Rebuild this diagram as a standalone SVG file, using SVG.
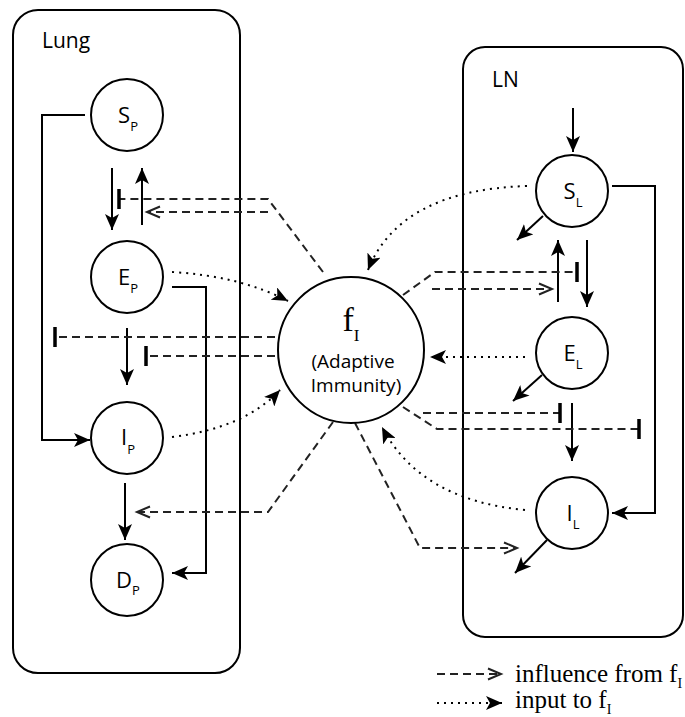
<svg xmlns="http://www.w3.org/2000/svg" width="685" height="717" viewBox="0 0 685 717">
<style>
.box{fill:none;stroke:#000;stroke-width:2}
.node circle{fill:#fff;stroke:#000;stroke-width:2}
.lbl{font-family:"Open Sans","DejaVu Sans",sans-serif;font-size:22px;fill:#000}
.sub{font-size:13px}
.cap{font-family:"Open Sans","DejaVu Sans",sans-serif;font-size:19px;fill:#000}
.title{font-family:"Open Sans","DejaVu Sans",sans-serif;font-size:21px;fill:#000}
.ser{font-family:"Liberation Serif","Times New Roman",serif;fill:#000}
.solid{fill:none;stroke:#000;stroke-width:2;marker-end:url(#ah)}
.dash{fill:none;stroke:#222;stroke-width:2;stroke-dasharray:8 5}
.dasha{fill:none;stroke:#222;stroke-width:2;stroke-dasharray:8 5;marker-end:url(#oa)}
.dot{fill:none;stroke:#000;stroke-width:2;stroke-dasharray:2 5;marker-end:url(#ah)}
.tbar{stroke:#000;stroke-width:3.5}
</style>
<defs>
<marker id="ah" markerUnits="userSpaceOnUse" markerWidth="17" markerHeight="14" refX="16" refY="7" orient="auto" viewBox="0 0 17 14"><path d="M0,0 L16,7 L0,14 L4,7 Z" fill="#000"/></marker>
<marker id="oa" markerUnits="userSpaceOnUse" markerWidth="16" markerHeight="13" refX="14" refY="6.5" orient="auto" viewBox="0 0 16 13" overflow="visible"><path d="M1,1 L14,6.5 L1,12" fill="none" stroke="#222" stroke-width="2"/></marker>
</defs>

<g id="lung-box"><rect class="box" x="13" y="10" width="227" height="663" rx="25"/><text class="title" x="42" y="48">Lung</text></g>
<g id="ln-box"><rect class="box" x="463" y="47" width="220" height="590" rx="22"/><text class="title" x="492" y="87">LN</text></g>

<g id="connectors">
<path class="solid" d="M112,168 L112,230"/>
<path class="solid" d="M142,225 L142,168"/>
<path class="solid" d="M85,115 L42,115 L42,440 L90,440"/>
<path class="solid" d="M172,287 L206,287 L206,573 L172,573"/>
<path class="solid" d="M127,328 L127,385"/>
<path class="solid" d="M125,483 L125,540"/>
<path class="solid" d="M573,108 L573,152"/>
<path class="solid" d="M612,186 L655,186 L655,513 L612,513"/>
<path class="solid" d="M543,216 L517,240"/>
<path class="solid" d="M587,240 L587,307"/>
<path class="solid" d="M558,302 L558,240"/>
<path class="solid" d="M542,375 L513,401"/>
<path class="solid" d="M572,403 L572,461"/>
<path class="solid" d="M547,540 L515,573"/>
<path class="dot" d="M172,272 Q240,276 288,301"/>
<path class="dot" d="M172,437 Q245,428 280,390"/>
<path class="dot" d="M527,186 Q400,190 368,270"/>
<path class="dot" d="M525,357 L430,357"/>
<path class="dot" d="M525,510 Q420,500 382,427"/>
<path class="dash" d="M323,272 L268,199 L120,199"/>
<line class="tbar" x1="119" y1="189" x2="119" y2="209"/>
<path class="dasha" d="M268,212 L147,212"/>
<path class="dash" d="M275,337 L56,337"/>
<line class="tbar" x1="55" y1="327" x2="55" y2="347"/>
<path class="dash" d="M275,356 L147,356"/>
<line class="tbar" x1="146" y1="346" x2="146" y2="366"/>
<path class="dasha" d="M333,422 L268,512 L137,512"/>
<path class="dash" d="M403,295 L435,272 L576,272"/>
<line class="tbar" x1="577" y1="262" x2="577" y2="282"/>
<path class="dasha" d="M432,289 L552,289"/>
<path class="dash" d="M423,413 L559,413"/>
<line class="tbar" x1="560" y1="403" x2="560" y2="423"/>
<path class="dash" d="M403,407 L437,429 L638,429"/>
<line class="tbar" x1="639" y1="419" x2="639" y2="439"/>
<path class="dasha" d="M355,423 L420,548 L517,548"/>
</g>

<g id="SP" class="node"><circle cx="127" cy="115" r="36"/><text class="lbl" x="128" y="123" text-anchor="middle">S<tspan class="sub" dy="8">P</tspan></text></g>
<g id="EP" class="node"><circle cx="127" cy="277" r="36"/><text class="lbl" x="128" y="285" text-anchor="middle">E<tspan class="sub" dy="8">P</tspan></text></g>
<g id="IP" class="node"><circle cx="127" cy="438" r="36"/><text class="lbl" x="128" y="445" text-anchor="middle">I<tspan class="sub" dy="9">P</tspan></text></g>
<g id="DP" class="node"><circle cx="127" cy="580" r="36"/><text class="lbl" x="128" y="588" text-anchor="middle">D<tspan class="sub" dy="7">P</tspan></text></g>
<g id="SL" class="node"><circle cx="572" cy="191" r="36"/><text class="lbl" x="573" y="199" text-anchor="middle">S<tspan class="sub" dy="8">L</tspan></text></g>
<g id="EL" class="node"><circle cx="572" cy="353" r="36"/><text class="lbl" x="573" y="361" text-anchor="middle">E<tspan class="sub" dy="8">L</tspan></text></g>
<g id="IL" class="node"><circle cx="572" cy="513" r="36"/><text class="lbl" x="573" y="521" text-anchor="middle">I<tspan class="sub" dy="8">L</tspan></text></g>
<g id="fI" class="node"><circle cx="351" cy="350" r="73"/>
<text class="ser" x="351" y="331" text-anchor="middle" font-size="34">f<tspan font-size="17" dy="10">I</tspan></text>
<text class="cap" x="353" y="368" text-anchor="middle">(Adaptive</text>
<text class="cap" x="356" y="392" text-anchor="middle">Immunity)</text>
</g>

<g id="legend">
<path class="dasha" d="M437,674 L501,674"/>
<text class="ser" x="515" y="682" font-size="25">influence from f<tspan font-size="14" dy="6">I</tspan></text>
<path class="dot" d="M437,703 L502,703"/>
<text class="ser" x="515" y="708" font-size="25">input to f<tspan font-size="14" dy="6">I</tspan></text>
</g>
</svg>
